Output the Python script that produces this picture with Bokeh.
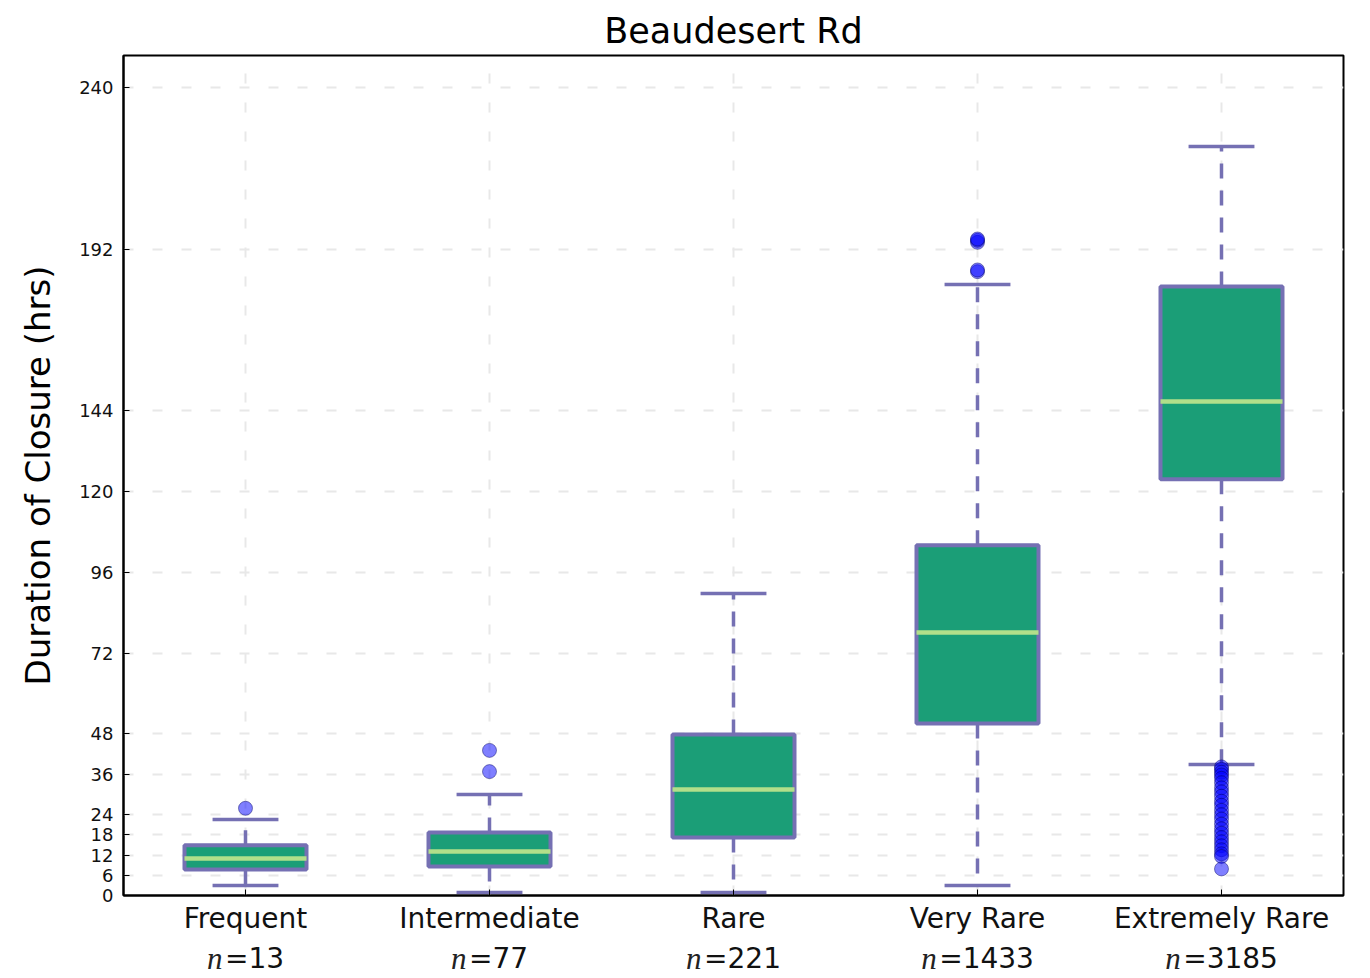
from bokeh.plotting import figure
from bokeh.models import FixedTicker, Range1d, ColumnDataSource
from bokeh.layouts import column
from bokeh.embed import file_html
from bokeh.resources import INLINE
from bokeh.core.properties import value
import numpy as np

categories = ["Frequent", "Intermediate", "Rare", "Very Rare", "Extremely Rare"]
counts = ["13", "77", "221", "1433", "3185"]
lower_whisker = [3.0, 0.9, 0.9, 3.0, 38.9]
q1 = [7.7, 8.6, 17.2, 51.1, 123.6]
median = [11.0, 13.1, 31.5, 78.1, 146.7]
q3 = [14.9, 18.7, 47.8, 104.0, 180.9]
upper_whisker = [22.6, 30.0, 89.7, 181.5, 222.5]
outliers = [
    [25.9],
    [36.8, 43.1],
    [],
    [185.3, 185.8, 194.0, 194.6, 195.0],
    [38.2, 37.5, 36.6, 35.8, 34.8, 33.5, 32.0, 30.8, 29.5, 28.0, 26.8, 25.3,
     24.0, 22.7, 21.2, 19.8, 18.5, 17.2, 16.0, 14.8, 13.6, 12.4, 11.6, 7.9],
]
y_ticks = [0, 6, 12, 18, 24, 36, 48, 72, 96, 120, 144, 192, 240]

FONT = "DejaVu Sans"
BOX_FILL = "#1b9e77"
BOX_LINE = "#7570b3"
MED = "#b2df8a"

pos = np.arange(1, len(categories) + 1, dtype=float)
x_range = Range1d(0.5, 5.5)

p = figure(frame_width=1220, frame_height=840,
           x_range=x_range, y_range=Range1d(0, 249.5),
           output_backend="svg", toolbar_location=None,
           min_border_left=123, min_border_right=23,
           min_border_top=55, min_border_bottom=45,
           title="Beaudesert Rd")

p.title.align = "center"
p.title.text_font = FONT
p.title.text_font_size = "35px"
p.title.text_font_style = "normal"
p.title.text_color = "#000000"
p.title.standoff = 9

p.background_fill_color = "white"
p.border_fill_color = "white"
p.outline_line_color = "black"
p.outline_line_width = 2

# grids
p.ygrid.ticker = FixedTicker(ticks=y_ticks)
p.xgrid.ticker = FixedTicker(ticks=list(pos))
for g in (p.xgrid, p.ygrid):
    g.grid_line_color = "#e8e8e8"
    g.grid_line_dash = "10 19"
    g.grid_line_width = 2

# y axis
ya = p.yaxis[0]
ya.ticker = FixedTicker(ticks=y_ticks)
ya.axis_label = "Duration of Closure (hrs)"
ya.axis_label_text_font = FONT
ya.axis_label_text_font_size = "34px"
ya.axis_label_text_font_style = "normal"
ya.axis_label_text_color = "#000000"
ya.axis_label_standoff = 18
ya.major_label_text_font = FONT
ya.major_label_text_font_size = "18px"
ya.major_label_text_color = "#111111"
ya.major_label_standoff = 10
ya.major_tick_in = 6
ya.major_tick_out = 0
ya.major_tick_line_color = "black"
ya.minor_tick_line_color = None
ya.axis_line_width = 2
ya.axis_line_color = "black"

# x axis
xa = p.xaxis[0]
xa.ticker = FixedTicker(ticks=list(pos))
xa.major_label_overrides = {int(i): c for i, c in zip(pos, categories)}
xa.major_label_text_font = FONT
xa.major_label_text_font_size = "28px"
xa.major_label_text_color = "#111111"
xa.major_label_standoff = 6
xa.major_tick_in = 6
xa.major_tick_out = 0
xa.major_tick_line_color = "black"
xa.minor_tick_line_color = None
xa.axis_line_width = 2
xa.axis_line_color = "black"

# whiskers (dashed)
p.segment(x0=pos, y0=q3, x1=pos, y1=upper_whisker, line_color=BOX_LINE,
          line_width=3.5, line_dash="15 12")
p.segment(x0=pos, y0=q1, x1=pos, y1=lower_whisker, line_color=BOX_LINE,
          line_width=3.5, line_dash="15 12")
# caps
cap_half = 0.135
p.segment(x0=pos - cap_half, y0=upper_whisker, x1=pos + cap_half, y1=upper_whisker,
          line_color=BOX_LINE, line_width=3.5)
p.segment(x0=pos - cap_half, y0=lower_whisker, x1=pos + cap_half, y1=lower_whisker,
          line_color=BOX_LINE, line_width=3.5)
# boxes
p.vbar(x=pos, width=0.5, bottom=q1, top=q3, fill_color=BOX_FILL,
       line_color=BOX_LINE, line_width=4)
# medians
p.segment(x0=pos - 0.25, y0=median, x1=pos + 0.25, y1=median,
          line_color=MED, line_width=4.5)

# outliers
ox, oy = [], []
for x, vals in zip(pos, outliers):
    ox += [x] * len(vals)
    oy += vals
p.scatter(ox, oy, size=14, marker="circle", fill_color="blue", fill_alpha=0.5,
          line_color="#000060", line_alpha=0.45, line_width=1)

# second strip for the "n=" line
fs = 28
n_w = 0.644 * fs
n_off, eq_off, eq_txt = [], [], []
for c in counts:
    eq_w = (0.838 + 0.636 * len(c)) * fs
    total = n_w + eq_w
    n_off.append(-total / 2)
    eq_off.append(-total / 2 + n_w)
    eq_txt.append("=" + c)

src = ColumnDataSource(dict(x=pos, y=[0.5] * len(pos), n=["n"] * len(pos),
                            n_off=n_off, eq=eq_txt, eq_off=eq_off))

p2 = figure(frame_width=1220, frame_height=36, x_range=x_range,
            y_range=Range1d(0, 1), output_backend="svg", toolbar_location=None,
            min_border_left=123, min_border_right=23,
            min_border_top=0, min_border_bottom=0,
            x_axis_location=None, y_axis_location=None)
p2.outline_line_color = None
p2.xgrid.visible = False
p2.ygrid.visible = False
p2.background_fill_color = "white"
p2.border_fill_color = "white"
p2.text(x="x", y="y", text="n", x_offset="n_off", source=src,
        text_align="left", text_baseline="middle",
        text_font=value("Liberation Serif"), text_font_style="italic",
        text_font_size="31px", text_color="#222222")
p2.text(x="x", y="y", text="eq", x_offset="eq_off", source=src,
        text_align="left", text_baseline="middle",
        text_font=value(FONT), text_font_size=f"{fs}px", text_color="#111111")

layout = column(p, p2, spacing=0)
open("out.html", "w").write(file_html(layout, INLINE))
